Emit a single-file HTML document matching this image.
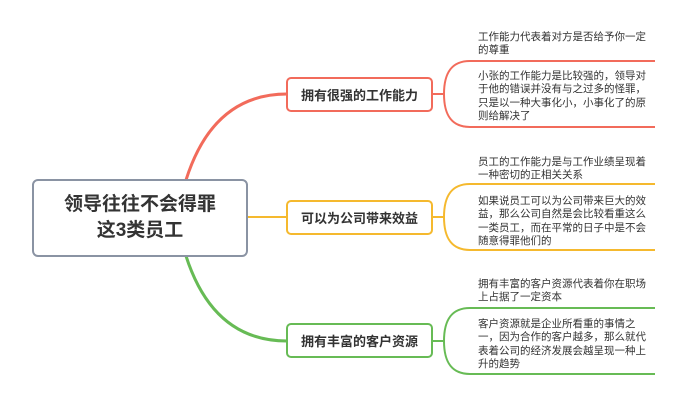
<!DOCTYPE html>
<html><head><meta charset="utf-8"><style>
body{margin:0;width:700px;height:404px;background:#fff;overflow:hidden;position:relative;font-family:"Liberation Sans","Noto Sans CJK SC",sans-serif;}
.box{position:absolute;background:#fff;box-sizing:border-box;display:flex;align-items:center;justify-content:center;color:#333;}
.t{position:absolute;left:478px;width:172px;font-size:10.5px;line-height:13.4px;color:#333;}
</style></head><body>
<svg width="700" height="404" style="position:absolute;left:0;top:0">
<path d="M186,180 C205,120 240,94 287,94" stroke="#f26b5b" stroke-width="3" fill="none"/>
<path d="M186,256 C205,315 240,341 287,341" stroke="#67bb55" stroke-width="3" fill="none"/>
<path d="M248,217 H287" stroke="#f5b92e" stroke-width="2" fill="none"/>
<g fill="none" stroke-width="2">
<path d="M433,94 H444 M470,61 C450,61 444,75 444,94 C444,113 450,127 470,127 H655 M470,61 H655" stroke="#f26b5b"/>
<path d="M433,217 H444 M470,184 C450,184 444,198 444,217 C444,236 450,250 470,250 H655 M470,184 H655" stroke="#f5b92e"/>
<path d="M433,341 H444 M470,308 C450,308 444,322 444,341 C444,360 450,374 470,374 H655 M470,308 H655" stroke="#67bb55"/>
</g>
</svg>
<div class="box" style="left:32px;top:179px;width:216px;height:78px;border:2px solid #8a93a3;border-radius:6px;font-size:19px;font-weight:bold;line-height:26px;text-align:center;">领导往往不会得罪<br>这3类员工</div>
<div class="box" style="left:286px;top:77px;width:147px;height:35px;border:2px solid #f26b5b;border-radius:5px;font-size:13px;font-weight:bold;">拥有很强的工作能力</div>
<div class="box" style="left:286px;top:200px;width:147px;height:35px;border:2px solid #f5b92e;border-radius:5px;font-size:13px;font-weight:bold;">可以为公司带来效益</div>
<div class="box" style="left:286px;top:323px;width:147px;height:35px;border:2px solid #67bb55;border-radius:5px;font-size:13px;font-weight:bold;">拥有丰富的客户资源</div>
<div class="t" style="top:31px">工作能力代表着对方是否给予你一定的尊重</div>
<div class="t" style="top:70px">小张的工作能力是比较强的，领导对于他的错误并没有与之过多的怪罪，只是以一种大事化小，小事化了的原则给解决了</div>
<div class="t" style="top:156px">员工的工作能力是与工作业绩呈现着一种密切的正相关关系</div>
<div class="t" style="top:195px">如果说员工可以为公司带来巨大的效益，那么公司自然是会比较看重这么一类员工，而在平常的日子中是不会随意得罪他们的</div>
<div class="t" style="top:278px">拥有丰富的客户资源代表着你在职场上占据了一定资本</div>
<div class="t" style="top:318px">客户资源就是企业所看重的事情之一，因为合作的客户越多，那么就代表着公司的经济发展会越呈现一种上升的趋势</div>
</body></html>
